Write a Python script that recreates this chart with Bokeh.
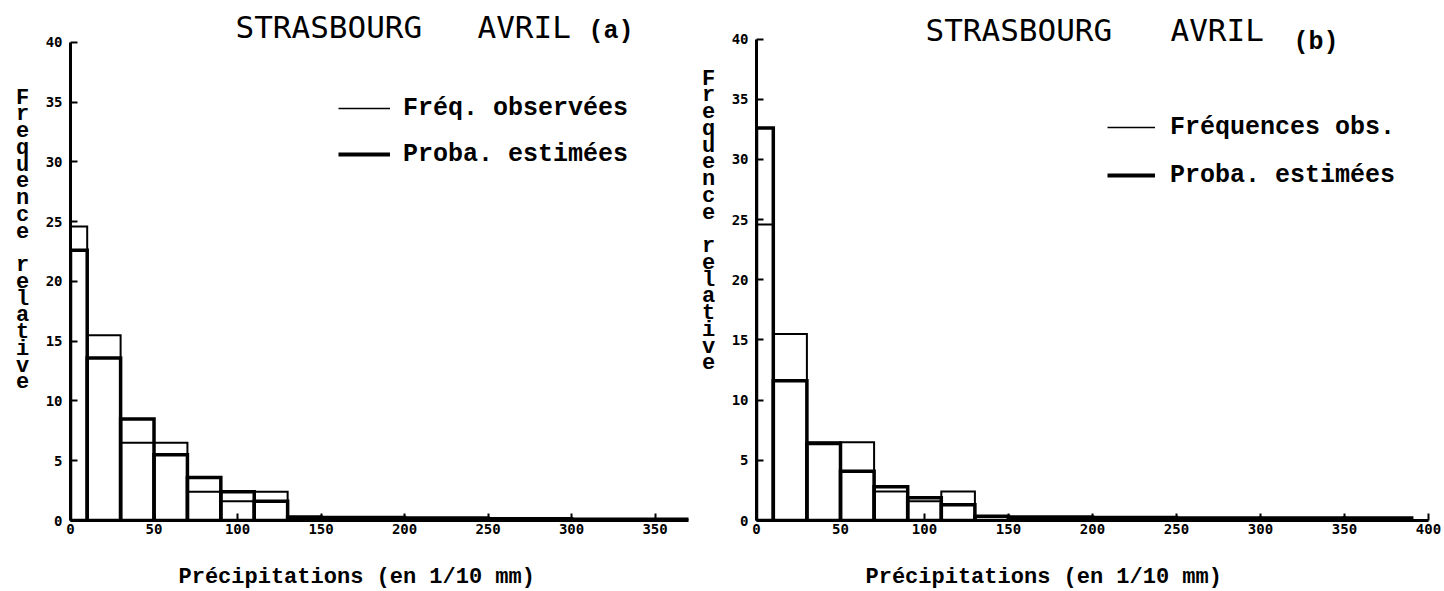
from bokeh.plotting import figure
from bokeh.models import Range1d, Label, Legend, LegendItem, FixedTicker
from bokeh.layouts import row, column
from bokeh.embed import file_html
from bokeh.resources import INLINE

# ---- data ----
bin_edges = [0, 10, 30, 50, 70, 90, 110, 130]
obs_freq = [24.6, 15.5, 6.5, 6.5, 2.4, 1.6, 2.4]          # Fréquences observées
est_a = [22.6, 13.6, 8.5, 5.5, 3.6, 2.4, 1.6]             # Proba. estimées (a)
est_b = [32.6, 11.6, 6.4, 4.1, 2.8, 1.9, 1.3]             # Proba. estimées (b)
tail_edges_a = [130, 150, 200, 250, 300, 370]
tail_est_a = [0.3, 0.25, 0.2, 0.15, 0.1]
tail_edges_b = [130, 150, 200, 250, 300, 350, 390]
tail_est_b = [0.35, 0.3, 0.25, 0.2, 0.2, 0.2]
y_ticks = [0, 5, 10, 15, 20, 25, 30, 35, 40]
x_ticks_a = [0, 50, 100, 150, 200, 250, 300, 350]
x_ticks_b = [0, 50, 100, 150, 200, 250, 300, 350, 400]

title_words = ["STRASBOURG", "AVRIL"]
xlabel_txt = "Précipitations (en 1/10 mm)"
ylabel_txt = "Frequence relative"
leg_obs_a = "Fréq. observées"
leg_obs_b = "Fréquences obs."
leg_est = "Proba. estimées"

MONO = "Liberation Mono"
SANSMONO = "DejaVu Sans Mono"
NAN = float("nan")
H = 555        # height of the chart row
HS = 36        # height of the x-label strip


def blank_fig(width, height):
    f = figure(width=width, height=height, output_backend="svg", toolbar_location=None,
               x_range=Range1d(0, 1), y_range=Range1d(0, 1),
               min_border_left=0, min_border_right=0, min_border_top=0, min_border_bottom=0)
    f.axis.visible = False
    f.grid.visible = False
    f.outline_line_color = None
    return f


def ylabel_fig(width, x, y):
    f = blank_fig(width, H)
    f.add_layout(Label(x=x, y=y, x_units="screen", y_units="screen",
                       text="\n".join(list(ylabel_txt)), text_font=MONO,
                       text_font_style="bold", text_font_size="22px",
                       text_line_height=0.67, text_baseline="top", text_align="center",
                       text_color="black"))
    return f


def panel(width, xmax, ytop, xticks, est, tail_edges, tail_est, borders, tag, pos):
    bl, br, bb = borders
    p = figure(width=width, height=H, output_backend="svg", toolbar_location=None,
               x_range=Range1d(0, xmax), y_range=Range1d(0, ytop),
               min_border_left=bl, min_border_right=br, min_border_top=0,
               min_border_bottom=bb)
    p.outline_line_color = None
    p.grid.visible = False
    p.background_fill_color = "white"
    p.border_fill_color = "white"

    for ax in (p.xaxis[0], p.yaxis[0]):
        ax.axis_line_width = 3
        ax.axis_line_color = "black"
        ax.major_tick_in = 7
        ax.major_tick_out = 0
        ax.major_tick_line_width = 2
        ax.minor_tick_line_color = None
        ax.major_label_text_font = SANSMONO
        ax.major_label_text_font_style = "bold"
        ax.major_label_text_font_size = "14px"
        ax.major_label_text_color = "black"
    p.xaxis[0].ticker = FixedTicker(ticks=xticks)
    p.yaxis[0].ticker = FixedTicker(ticks=y_ticks)
    p.yaxis[0].bounds = (0, 40)
    p.xaxis[0].major_label_standoff = 3
    p.yaxis[0].major_label_standoff = 8

    lefts = bin_edges[:-1]
    rights = bin_edges[1:]
    # estimated probabilities: thick outline
    p.quad(left=lefts + tail_edges[:-1], right=rights + tail_edges[1:],
           bottom=0, top=est + tail_est, fill_alpha=0,
           line_color="black", line_width=3.5, line_join="miter")
    # observed frequencies: thin outline
    p.quad(left=lefts, right=rights, bottom=0, top=obs_freq, fill_alpha=0,
           line_color="black", line_width=2, line_join="miter")

    r_obs = p.line([NAN], [NAN], line_color="black", line_width=1.5)
    r_est = p.line([NAN], [NAN], line_color="black", line_width=4)
    leg = Legend(items=[LegendItem(label=pos["leg_obs"], renderers=[r_obs]),
                        LegendItem(label=leg_est, renderers=[r_est])],
                 location=pos["leg_loc"], orientation="vertical",
                 glyph_width=pos["glyph_w"], glyph_height=30, label_height=30,
                 label_standoff=pos["standoff"], spacing=pos["spacing"],
                 padding=0, margin=0,
                 border_line_alpha=0, background_fill_alpha=0,
                 label_text_font=MONO, label_text_font_style="bold",
                 label_text_font_size="25px", label_text_color="black")
    p.add_layout(leg, "center")

    for word, wx in zip(title_words, pos["title_xs"]):
        p.add_layout(Label(x=wx, y=pos["title_y"], x_units="screen", y_units="screen",
                           text=word, text_font=SANSMONO, text_font_size="31px",
                           text_baseline="middle", text_align="left", text_color="black"))
    p.add_layout(Label(x=pos["tag_x"], y=pos["tag_y"], x_units="screen", y_units="screen",
                       text=tag, text_font=MONO, text_font_style="bold",
                       text_font_size="25px", text_baseline="middle", text_align="left",
                       text_color="black"))
    return p


lab_a = ylabel_fig(40, 22, 435)
pa = panel(654, 370, 43.5, x_ticks_a, est_a, tail_edges_a, tail_est_a, (30, 6, 33), "(a)",
           dict(leg_obs=leg_obs_a, leg_loc=(268, 351), glyph_w=52, standoff=13, spacing=16,
                title_xs=(165, 407), title_y=494, tag_x=518, tag_y=489))
lab_b = ylabel_fig(30, 14, 454)
pb = panel(720, 400, 43.2, x_ticks_b, est_b, tail_edges_b, tail_est_b, (32, 16, 35), "(b)",
           dict(leg_obs=leg_obs_b, leg_loc=(351, 330), glyph_w=48, standoff=15, spacing=18,
                title_xs=(169, 414), title_y=491, tag_x=537, tag_y=478))

strip = blank_fig(1444, HS)
for lx in (178, 865):
    strip.add_layout(Label(x=lx, y=14, x_units="screen", y_units="screen",
                           text=xlabel_txt, text_font=MONO, text_font_style="bold",
                           text_font_size="22px", text_baseline="middle", text_align="left",
                           text_color="black"))

layout = column(row(lab_a, pa, lab_b, pb), strip)
open("out.html", "w").write(file_html(layout, INLINE))
